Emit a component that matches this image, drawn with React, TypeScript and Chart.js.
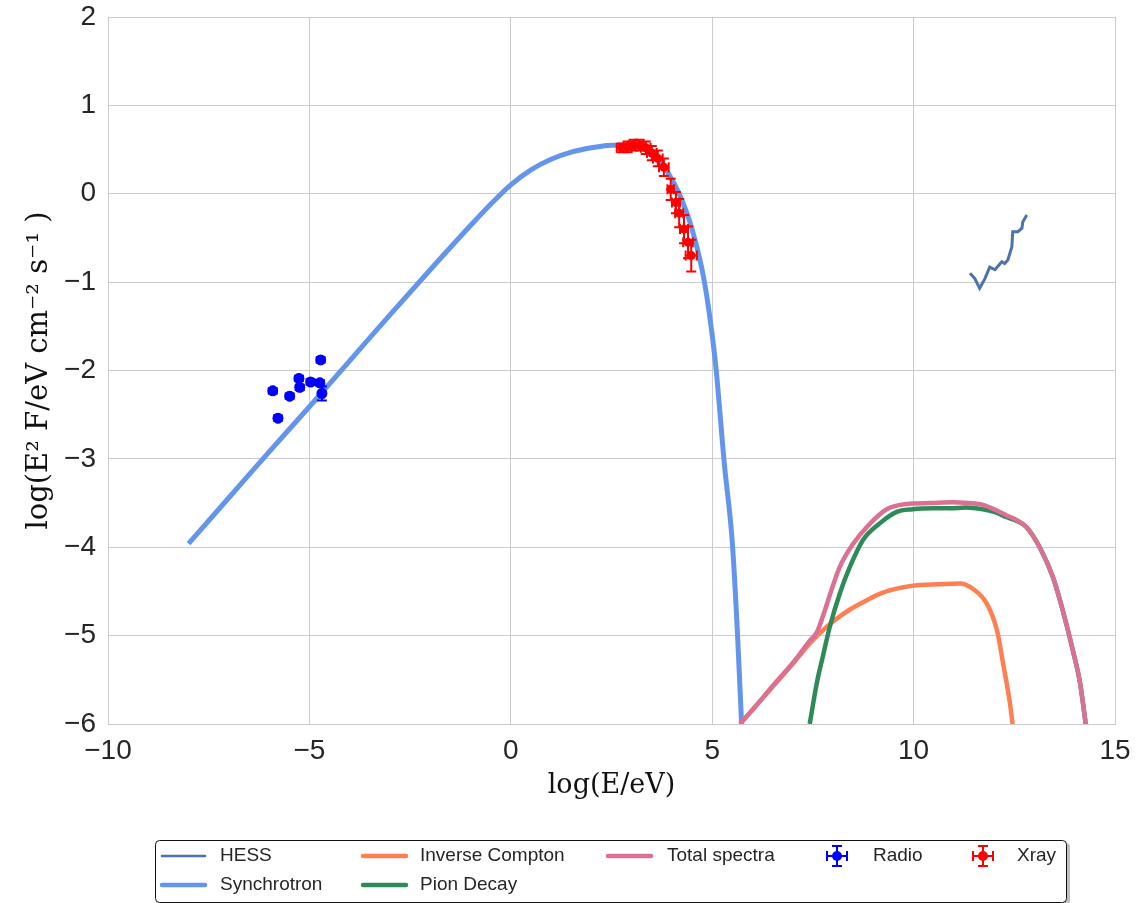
import React, { useEffect, useRef } from 'react';
import { Chart, registerables } from 'chart.js';
Chart.register(...registerables);

// ---- data ----
const xTicks = [-10, -5, 0, 5, 10, 15];
const yTicks = [-6, -5, -4, -3, -2, -1, 0, 1, 2];

const hessX = [11.4, 11.52, 11.64, 11.77, 11.89, 12.02, 12.19, 12.26, 12.34, 12.44, 12.46, 12.59, 12.69, 12.71, 12.81];
const hessY = [-0.9, -0.96, -1.07, -0.96, -0.83, -0.86, -0.77, -0.79, -0.75, -0.6, -0.43, -0.43, -0.39, -0.32, -0.24];

const synX = [-8, -7, -6, -5, -4, -3, -2, -1, -0.5, 0, 0.5, 1, 1.5, 2, 2.5, 3, 3.3, 3.6, 3.9, 4.2, 4.5, 4.8, 5.0, 5.1, 5.3, 5.5, 5.63, 5.73];
const synY = [-3.96, -3.44, -2.92, -2.41, -1.89, -1.37, -0.86, -0.36, -0.12, 0.1, 0.27, 0.39, 0.47, 0.52, 0.55, 0.55, 0.51, 0.42, 0.24, -0.02, -0.4, -0.98, -1.6, -2.0, -3.05, -3.95, -5.0, -6.0];

const icX = [5.69, 6.0, 6.5, 7.0, 7.42, 7.7, 8.0, 8.4, 8.84, 9.2, 9.66, 10.08, 10.6, 11.15, 11.47, 11.82, 12.07, 12.22, 12.39, 12.47];
const icY = [-6.0, -5.84, -5.58, -5.32, -5.09, -4.96, -4.84, -4.71, -4.6, -4.52, -4.46, -4.43, -4.42, -4.41, -4.47, -4.64, -4.94, -5.31, -5.76, -6.05];

const pionX = [7.42, 7.6, 7.75, 7.92, 8.17, 8.42, 8.74, 9.16, 9.58, 9.98, 10.5, 10.9, 11.3, 11.72, 12.0, 12.31, 12.55, 12.8, 13.13, 13.46, 13.7, 13.95, 14.13, 14.25, 14.3];
const pionY = [-6.0, -5.53, -5.23, -4.9, -4.52, -4.22, -3.92, -3.73, -3.6, -3.57, -3.56, -3.56, -3.55, -3.57, -3.6, -3.66, -3.7, -3.77, -4.0, -4.34, -4.71, -5.16, -5.53, -5.92, -6.1];

const totX = [5.69, 6.0, 6.5, 7.0, 7.42, 7.6, 7.8, 7.92, 8.17, 8.5, 8.84, 9.33, 9.83, 10.4, 10.97, 11.35, 11.72, 12.0, 12.31, 12.55, 12.8, 13.13, 13.46, 13.7, 13.95, 14.13, 14.25, 14.3];
const totY = [-6.0, -5.84, -5.57, -5.31, -5.06, -4.96, -4.71, -4.54, -4.22, -3.96, -3.77, -3.57, -3.51, -3.5, -3.49, -3.5, -3.52, -3.57, -3.64, -3.69, -3.77, -4.0, -4.34, -4.71, -5.16, -5.53, -5.92, -6.1];

const radioX = [-5.91, -5.78, -5.49, -5.26, -5.24, -4.97, -4.74, -4.72, -4.69];
const radioY = [-2.23, -2.54, -2.29, -2.09, -2.19, -2.13, -2.14, -1.88, -2.26];
const radioXerr = [0.03, 0.03, 0.03, 0.03, 0.03, 0.03, 0.03, 0.03, 0.05];
const radioYerr = [0.03, 0.03, 0.03, 0.03, 0.03, 0.03, 0.03, 0.03, 0.08];

const xrayX = [2.75, 2.9, 3.05, 3.2, 3.35, 3.5, 3.65, 3.8, 3.97, 4.1, 4.18, 4.3, 4.4, 4.48];
const xrayY = [0.52, 0.53, 0.55, 0.55, 0.52, 0.46, 0.4, 0.3, 0.05, -0.1, -0.22, -0.4, -0.55, -0.7];
const xrayXerr = [0.12, 0.1, 0.12, 0.1, 0.12, 0.12, 0.12, 0.12, 0.08, 0.1, 0.1, 0.1, 0.12, 0.14];
const xrayYerr = [0.05, 0.06, 0.06, 0.06, 0.07, 0.08, 0.09, 0.1, 0.12, 0.12, 0.16, 0.16, 0.18, 0.18];

const labels = ['HESS', 'Synchrotron', 'Inverse Compton', 'Pion Decay', 'Total spectra', 'Radio', 'Xray'];
const colors = ['#4c72b0', '#6495ed', '#ff7f50', '#2e8b57', '#db7093', '#0000ff', '#ff0000'];

const pts = (xs: number[], ys: number[]) => xs.map((x, i) => ({ x, y: ys[i] }));
const minus = (v: number) => String(v).replace('-', '\u2212');

const errorBarPlugin = {
  id: 'errorBars',
  afterDatasetsDraw(chart: any) {
    const ctx = chart.ctx;
    const xs = chart.scales.x, ys = chart.scales.y;
    chart.data.datasets.forEach((ds: any) => {
      if (!ds.xErr) return;
      ctx.save();
      ctx.strokeStyle = ds.borderColor;
      ctx.lineWidth = 2;
      const c = 5;
      ds.data.forEach((p: any, j: number) => {
        const px = xs.getPixelForValue(p.x), py = ys.getPixelForValue(p.y);
        const x0 = xs.getPixelForValue(p.x - ds.xErr[j]), x1 = xs.getPixelForValue(p.x + ds.xErr[j]);
        const y0 = ys.getPixelForValue(p.y - ds.yErr[j]), y1 = ys.getPixelForValue(p.y + ds.yErr[j]);
        ctx.beginPath();
        ctx.moveTo(x0, py); ctx.lineTo(x1, py);
        ctx.moveTo(x0, py - c); ctx.lineTo(x0, py + c);
        ctx.moveTo(x1, py - c); ctx.lineTo(x1, py + c);
        ctx.moveTo(px, y0); ctx.lineTo(px, y1);
        ctx.moveTo(px - c, y0); ctx.lineTo(px + c, y0);
        ctx.moveTo(px - c, y1); ctx.lineTo(px + c, y1);
        ctx.stroke();
      });
      ctx.restore();
    });
  },
};

const legendLayout = [
  { x: 162, y: 856, tx: 220, kind: 'line', lw: 2.5 },
  { x: 162, y: 885, tx: 220, kind: 'line', lw: 4.5 },
  { x: 363, y: 856, tx: 420, kind: 'line', lw: 4.5 },
  { x: 363, y: 885, tx: 420, kind: 'line', lw: 4.5 },
  { x: 608, y: 856, tx: 667, kind: 'line', lw: 4.5 },
  { x: 837, y: 856, tx: 873, kind: 'err', lw: 2 },
  { x: 983, y: 856, tx: 1017, kind: 'err', lw: 2 },
];

const legendPlugin = {
  id: 'customLegend',
  afterDraw(chart: any) {
    const ctx = chart.ctx;
    ctx.save();
    ctx.fillStyle = 'rgba(0,0,0,0.25)';
    ctx.beginPath();
    ctx.roundRect(158, 843, 912, 62, 4);
    ctx.fill();
    ctx.fillStyle = '#ffffff';
    ctx.strokeStyle = '#111111';
    ctx.lineWidth = 1;
    ctx.beginPath();
    ctx.roundRect(155.5, 840.5, 911, 62, 4);
    ctx.fill();
    ctx.stroke();
    ctx.font = '19px "Liberation Sans", Arial, sans-serif';
    ctx.textBaseline = 'middle';
    ctx.textAlign = 'left';
    chart.data.datasets.forEach((ds: any, i: number) => {
      const L = legendLayout[i];
      ctx.strokeStyle = ds.borderColor;
      ctx.fillStyle = ds.borderColor;
      if (L.kind === 'line') {
        ctx.lineWidth = L.lw;
        ctx.lineCap = 'round';
        ctx.beginPath();
        ctx.moveTo(L.x, L.y);
        ctx.lineTo(L.x + 43, L.y);
        ctx.stroke();
      } else {
        const c = 5, e = 10;
        ctx.lineWidth = 2;
        ctx.lineCap = 'butt';
        ctx.beginPath();
        ctx.moveTo(L.x - e, L.y); ctx.lineTo(L.x + e, L.y);
        ctx.moveTo(L.x - e, L.y - c); ctx.lineTo(L.x - e, L.y + c);
        ctx.moveTo(L.x + e, L.y - c); ctx.lineTo(L.x + e, L.y + c);
        ctx.moveTo(L.x, L.y - e); ctx.lineTo(L.x, L.y + e);
        ctx.moveTo(L.x - c, L.y - e); ctx.lineTo(L.x + c, L.y - e);
        ctx.moveTo(L.x - c, L.y + e); ctx.lineTo(L.x + c, L.y + e);
        ctx.stroke();
        ctx.beginPath();
        ctx.arc(L.x, L.y, 5, 0, Math.PI * 2);
        ctx.fill();
      }
      ctx.fillStyle = '#262626';
      ctx.fillText(ds.label, L.tx, L.y);
    });
    ctx.restore();
  },
};

export default function App() {
  const ref = useRef<HTMLCanvasElement>(null);
  useEffect(() => {
    document.body.style.margin = '0';
    const lineDs = (i: number, xs: number[], ys: number[], lw: number, order: number, smooth: boolean) => ({
      label: labels[i],
      data: pts(xs, ys),
      borderColor: colors[i],
      backgroundColor: colors[i],
      borderWidth: lw,
      showLine: true,
      pointRadius: 0,
      pointHoverRadius: 0,
      cubicInterpolationMode: smooth ? 'monotone' : 'default',
      tension: 0,
      order,
    });
    const chart = new Chart(ref.current as HTMLCanvasElement, {
      type: 'scatter',
      data: {
        datasets: [
          lineDs(0, hessX, hessY, 3, 6, false),
          lineDs(1, synX, synY, 5, 5, true),
          lineDs(2, icX, icY, 4.5, 4, true),
          lineDs(3, pionX, pionY, 4.5, 3, true),
          lineDs(4, totX, totY, 4.5, 2, true),
          {
            label: labels[5], data: pts(radioX, radioY), borderColor: colors[5], backgroundColor: colors[5],
            pointRadius: 5.5, pointBorderWidth: 0, showLine: false, order: 1, xErr: radioXerr, yErr: radioYerr,
          } as any,
          {
            label: labels[6], data: pts(xrayX, xrayY), borderColor: colors[6], backgroundColor: colors[6],
            pointRadius: 4.5, pointBorderWidth: 0, showLine: false, order: 0, xErr: xrayXerr, yErr: xrayYerr,
          } as any,
        ],
      },
      options: {
        responsive: false,
        animation: false,
        devicePixelRatio: 1,
        layout: { padding: { top: 17, right: 28, left: 0, bottom: 0 } },
        plugins: { legend: { display: false }, tooltip: { enabled: false } },
        scales: {
          x: {
            type: 'linear', min: -10, max: 15,
            afterBuildTicks: (s: any) => { s.ticks = xTicks.map((v) => ({ value: v })); },
            afterFit: (s: any) => { s.height = 179; s.paddingLeft = 0; s.paddingRight = 0; },
            grid: { color: '#cccccc', lineWidth: 1, drawTicks: false },
            border: { color: '#cccccc', width: 1 },
            ticks: { color: '#262626', padding: 10, font: { family: '"Liberation Sans", Arial, sans-serif', size: 28 }, callback: (v: any) => minus(v), maxRotation: 0 },
            title: { display: true, text: 'log(E/eV)', color: '#111111', font: { family: '"DejaVu Serif", serif', size: 27 }, padding: { top: 0, bottom: 101 } },
          },
          y: {
            type: 'linear', min: -6, max: 2,
            afterBuildTicks: (s: any) => { s.ticks = yTicks.map((v) => ({ value: v })); },
            afterFit: (s: any) => { s.width = 108; s.paddingTop = 0; s.paddingBottom = 0; },
            grid: { color: '#cccccc', lineWidth: 1, drawTicks: false },
            border: { color: '#cccccc', width: 1 },
            ticks: { color: '#262626', padding: 12, font: { family: '"Liberation Sans", Arial, sans-serif', size: 28 }, callback: (v: any) => minus(v) },
            title: { display: true, text: 'log(E\u00b2 F/eV cm\u207b\u00b2 s\u207b\u00b9 )', color: '#111111', font: { family: '"DejaVu Serif", serif', size: 29 }, padding: { top: 22, bottom: 0 } },
          },
        },
      } as any,
      plugins: [errorBarPlugin, legendPlugin],
    });
    return () => chart.destroy();
  }, []);
  return (
    <div style={{ width: 1143, height: 903 }}>
      <canvas ref={ref} width={1143} height={903} style={{ display: 'block' }} />
    </div>
  );
}
